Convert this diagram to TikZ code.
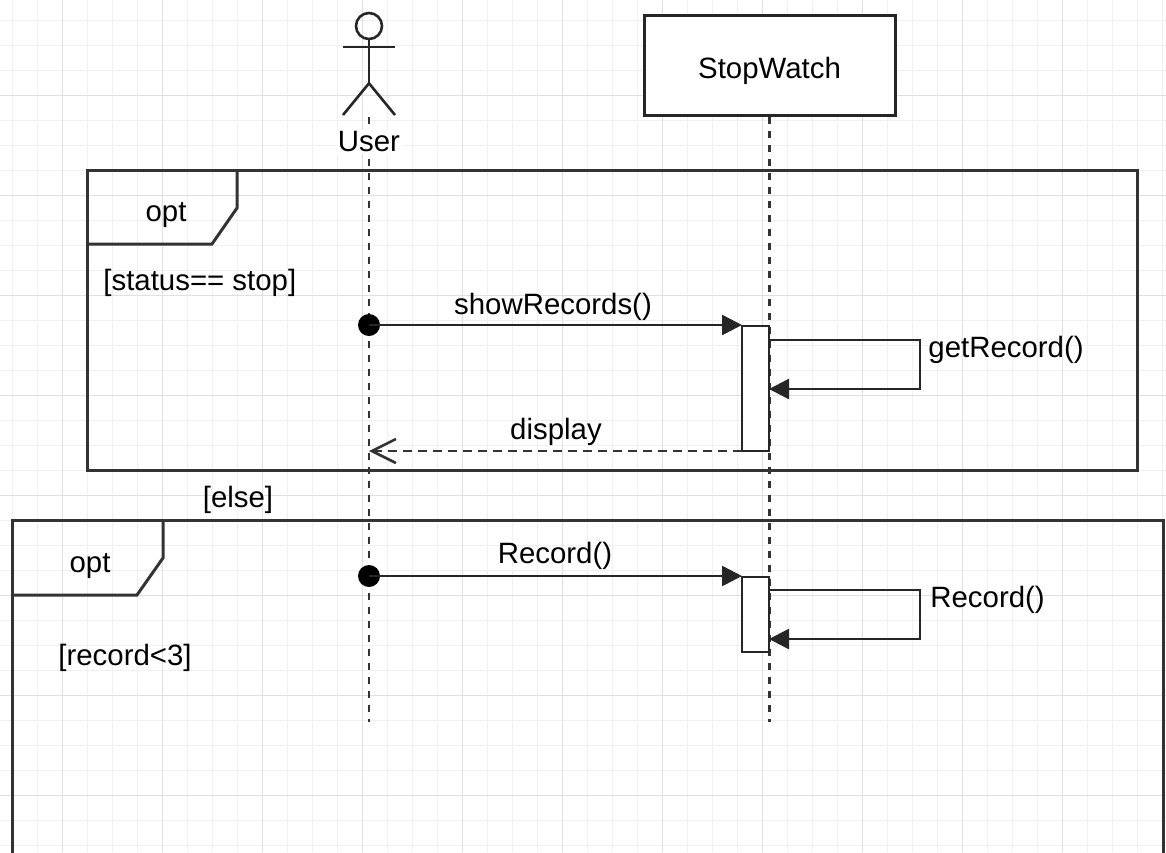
\documentclass[tikz,border=0pt]{standalone}
\usepackage{fontspec}
\setmainfont{Liberation Sans}
\usetikzlibrary{arrows.meta}
\begin{document}
\begin{tikzpicture}[x=0.5pt,y=-0.5pt,
		font=\fontsize{14.7}{17}\selectfont,
		gridminor/.style={draw=black!6,line width=0.5pt},
		gridmajor/.style={draw=black!12,line width=0.5pt},
		lifeline/.style={line width=1.3pt,draw=black!80,dash pattern=on 3.5pt off 3.5pt},
		msg/.style={line width=1.3pt,draw=black!85,-{Triangle[length=10pt,width=10pt]}},
		reply/.style={line width=1.3pt,draw=black!80,dash pattern=on 4.5pt off 3pt,-{Straight Barb[length=12pt,width=12pt]}},
		frame/.style={draw=black!80,line width=1.5pt,outer sep=0pt,inner sep=0pt},
		actbox/.style={draw=black!85,fill=white,line width=1.3pt,minimum width=13.5pt,inner sep=0pt,outer sep=0pt},
		lbl/.style={inner sep=0pt}]
			\useasboundingbox (0,0) rectangle (1166,852);
			\clip (0,0) rectangle (1166,852);
			\fill[white] (0,0) rectangle (1166,852);
			\foreach \x in {12,37,...,1162} \draw[gridminor] (\x,0) -- (\x,852);
			\foreach \y in {20,45,...,845} \draw[gridminor] (0,\y) -- (1166,\y);
			\foreach \x in {62,162,...,1062} \draw[gridmajor] (\x,0) -- (\x,852);
			\foreach \y in {95,195,...,795} \draw[gridmajor] (0,\y) -- (1166,\y);
			\node[frame,minimum width=525pt,minimum height=150pt,anchor=north west] (opt1) at (87,170) {};
			\draw[frame] ([yshift=-37pt]opt1.north west) -- ++(125,0) -- ++(25,-36) -- ++(0,-38);
			\node[lbl] (opt1tag) at (166,215) {opt};
			\node[lbl,anchor=west] (guard1) at (103,283) {[status== stop]};
			\node[lbl] (elselbl) at (238,500) {[else]};
			\node[frame,minimum width=575.5pt,minimum height=200pt,anchor=north west] (opt2) at (12,520) {};
			\draw[frame] ([yshift=-37.5pt]opt2.north west) -- ++(125,0) -- ++(26,-37) -- ++(0,-38);
			\node[lbl] (opt2tag) at (90,566) {opt};
			\node[lbl,anchor=west] (guard2) at (58,658) {[record<3]};
			\node[draw=black!85,fill=white,line width=1.5pt,minimum width=125.5pt,minimum height=50pt,text height=13.5pt,text depth=0pt] (sw) at (769.5,65) {StopWatch};
			\node[draw=black!85,circle,line width=1.3pt,minimum size=13pt,inner sep=0pt] (head) at (369,26) {};
			\draw[line width=1.3pt,black!85] (head.south) -- ++(0,43) coordinate (hip);
			\draw[line width=1.3pt,black!85] (343,47) -- (395,47);
			\draw[line width=1.3pt,black!85] (343,115) -- (hip) -- (395,115);
			\coordinate (userend) at (369,722);
			\coordinate (swend) at (769.5,722);
			\draw[lifeline] ([yshift=-17pt]hip) -- (userend);
			\draw[lifeline] (sw.south) -- (swend);
			\node[fill=white,inner sep=1pt] (userlbl) at (369,142) {User};
			\node[actbox,minimum height=62.5pt] (act1) at (755.5,388.5) {};
			\node[actbox,minimum height=37.5pt] (act2) at (755.5,614.5) {};
			\coordinate (call1) at (369,325);
			\fill[black] (call1) circle (5.5pt);
			\draw[msg] (call1) -- (call1 -| act1.west);
			\node[lbl] (call1lbl) at (553,307) {showRecords()};
			\draw[msg] ([yshift=-7pt]act1.north east) -- ++(151,0) -- ++(0,49) -- ([yshift=-31.5pt]act1.north east);
			\node[lbl,anchor=west] (self1lbl) at (928,350) {getRecord()};
			\draw[reply] (act1.south west) -- (act1.south west -| userend);
			\node[lbl] (replylbl) at (556,432) {display};
			\coordinate (call2) at (369,576);
			\fill[black] (call2) circle (5.5pt);
			\draw[msg] (call2) -- (call2 -| act2.west);
			\node[lbl] (call2lbl) at (555,556) {Record()};
			\draw[msg] ([yshift=-6.5pt]act2.north east) -- ++(151,0) -- ++(0,49) -- ([yshift=-31pt]act2.north east);
			\node[lbl,anchor=west] (self2lbl) at (930,600) {Record()};
		\end{tikzpicture}
\end{document}
